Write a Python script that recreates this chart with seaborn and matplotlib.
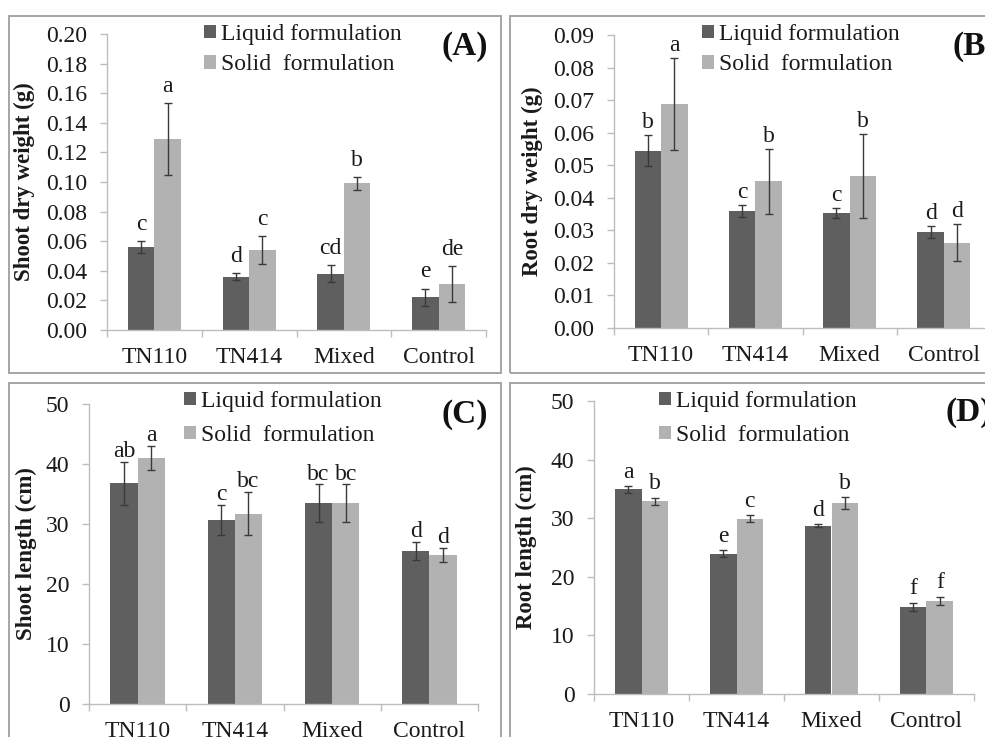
import matplotlib
matplotlib.use("Agg")
import matplotlib.pyplot as plt
from matplotlib.patches import Rectangle
import seaborn as sns
import pandas as pd
import numpy as np

# ---------------- data ----------------
treatments = ["TN110", "TN414", "Mixed", "Control"]
formulations = ["Liquid formulation", "Solid  formulation"]

shoot_dw_liquid = [0.056, 0.036, 0.038, 0.022]
shoot_dw_solid = [0.129, 0.054, 0.099, 0.031]
shoot_dw_liquid_err = [0.004, 0.0025, 0.0056, 0.006]
shoot_dw_solid_err = [0.0245, 0.0097, 0.0045, 0.012]
shoot_dw_liquid_lab = ["c", "d", "cd", "e"]
shoot_dw_solid_lab = ["a", "c", "b", "de"]

root_dw_liquid = [0.0545, 0.0359, 0.0354, 0.0295]
root_dw_solid = [0.0687, 0.0450, 0.0468, 0.0262]
root_dw_liquid_err = [0.0047, 0.0018, 0.0016, 0.0018]
root_dw_solid_err = [0.0141, 0.0101, 0.0129, 0.0057]
root_dw_liquid_lab = ["b", "c", "c", "d"]
root_dw_solid_lab = ["a", "b", "b", "d"]

shoot_len_liquid = [36.8, 30.7, 33.5, 25.5]
shoot_len_solid = [41.0, 31.7, 33.5, 24.8]
shoot_len_liquid_err = [3.6, 2.5, 3.1, 1.5]
shoot_len_solid_err = [2.0, 3.6, 3.1, 1.2]
shoot_len_liquid_lab = ["ab", "c", "bc", "d"]
shoot_len_solid_lab = ["a", "bc", "bc", "d"]

root_len_liquid = [34.9, 23.9, 28.7, 14.9]
root_len_solid = [32.9, 29.9, 32.6, 15.9]
root_len_liquid_err = [0.6, 0.6, 0.25, 0.7]
root_len_solid_err = [0.6, 0.6, 1.0, 0.7]
root_len_liquid_lab = ["a", "e", "d", "f"]
root_len_solid_lab = ["b", "c", "b", "f"]

ylabels = ["Shoot dry weight (g)", "Root dry weight (g)",
           "Shoot length (cm)", "Root length (cm)"]
panel_tags = ["(A)", "(B)", "(C)", "(D)"]

# ---------------- style ----------------
sns.set_theme(style="white")
plt.rcParams["font.family"] = ["Liberation Serif", "DejaVu Serif"]
plt.rcParams["text.color"] = "#1a1a1a"

W, H = 985, 737
fig = plt.figure(figsize=(W / 100, H / 100), dpi=100)

def fx(px):
    return px / W

def fy(py):
    return 1 - py / H

pal = {formulations[0]: "#5f5f5f", formulations[1]: "#b2b2b2"}
axis_col = "#bdbdbd"
err_col = "#3a3a3a"
FS = 17

panels = [
    dict(liq=shoot_dw_liquid, sol=shoot_dw_solid, le=shoot_dw_liquid_err, se=shoot_dw_solid_err,
         ll=shoot_dw_liquid_lab, sl=shoot_dw_solid_lab,
         ax=(107, 486, 34, 330), ymax=0.20, step=0.02, fmt="{:.2f}",
         ylab_x=35, leg=(204, 24), lsp=0.4, tag=(488, 47), off=8, frame=(9, 16, 501, 373)),
    dict(liq=root_dw_liquid, sol=root_dw_solid, le=root_dw_liquid_err, se=root_dw_solid_err,
         ll=root_dw_liquid_lab, sl=root_dw_solid_lab,
         ax=(614, 991, 35, 328), ymax=0.09, step=0.01, fmt="{:.2f}",
         ylab_x=543, leg=(702, 24), lsp=0.4, tag=(997, 47), off=5, frame=(510, 16, 1000, 373)),
    dict(liq=shoot_len_liquid, sol=shoot_len_solid, le=shoot_len_liquid_err, se=shoot_len_solid_err,
         ll=shoot_len_liquid_lab, sl=shoot_len_solid_lab,
         ax=(89, 478, 404, 704), ymax=50, step=10, fmt="{:.0f}",
         ylab_x=37, leg=(184, 391), lsp=0.55, tag=(488, 415), off=3.5, frame=(9, 383, 501, 760)),
    dict(liq=root_len_liquid, sol=root_len_solid, le=root_len_liquid_err, se=root_len_solid_err,
         ll=root_len_liquid_lab, sl=root_len_solid_lab,
         ax=(594, 974, 401, 694), ymax=50, step=10, fmt="{:.0f}",
         ylab_x=537, leg=(659, 391), lsp=0.55, tag=(992, 413), off=6, frame=(510, 383, 1000, 760)),
]

for i, p in enumerate(panels):
    # frame
    x0, y0, x1, y1 = p["frame"]
    fig.patches.append(Rectangle((fx(x0), fy(y1)), fx(x1 - x0), fy(y0) - fy(y1),
                                 transform=fig.transFigure, fill=False,
                                 edgecolor="#a5a5a5", linewidth=1.4, zorder=0))

    l, r, t, b = p["ax"]
    ax = fig.add_axes([fx(l), fy(b), fx(r - l), (b - t) / H])
    ax.patch.set_alpha(0)

    df = pd.DataFrame({
        "Treatment": treatments * 2,
        "Formulation": [formulations[0]] * 4 + [formulations[1]] * 4,
        "value": list(p["liq"]) + list(p["sol"]),
    })
    sns.barplot(data=df, x="Treatment", y="value", hue="Formulation",
                order=treatments, hue_order=formulations, palette=pal,
                width=0.56, errorbar=None, saturation=1, ax=ax,
                linewidth=0, legend=True)

    errs = [p["le"], p["se"]]
    labs = [p["ll"], p["sl"]]
    vals = [p["liq"], p["sol"]]
    bar_conts = list(ax.containers[:2])
    for k, cont in enumerate(bar_conts):
        for j, bar in enumerate(list(cont.patches)):
            cx = bar.get_x() + bar.get_width() / 2
            ax.errorbar(cx, vals[k][j], yerr=errs[k][j], fmt="none",
                        ecolor=err_col, elinewidth=1.0, capsize=3, capthick=1.0,
                        zorder=5)
            ax.annotate(labs[k][j], (cx, vals[k][j] + errs[k][j]),
                        xytext=(0, p["off"]), textcoords="offset points",
                        ha="center", va="baseline", fontsize=17, color="#1a1a1a")

    ax.set_ylim(0, p["ymax"])
    ax.set_xlim(-0.5, 3.5)
    yt = np.arange(0, p["ymax"] + p["step"] / 2, p["step"])
    ax.set_yticks(yt)
    ax.set_yticklabels([p["fmt"].format(v) for v in yt])
    ax.set_xticks([-0.5, 0.5, 1.5, 2.5, 3.5])
    ax.set_xticklabels([])
    ax.set_xticks(range(4), minor=True)
    ax.set_xticklabels(treatments, minor=True)
    ax.tick_params(axis="x", which="major", length=5, width=1, color=axis_col, direction="out")
    ax.tick_params(axis="x", which="minor", length=0, pad=12.5, labelsize=FS, labelcolor="#1a1a1a")
    ax.tick_params(axis="y", which="major", length=5, width=1, color=axis_col, direction="out",
                   pad=9, labelsize=FS, labelcolor="#1a1a1a")
    ax.xaxis.set_ticks_position("bottom")
    ax.yaxis.set_ticks_position("left")
    for s in ["top", "right"]:
        ax.spines[s].set_visible(False)
    for s in ["left", "bottom"]:
        ax.spines[s].set_color(axis_col)
        ax.spines[s].set_linewidth(1.0)
    ax.set_xlabel("")
    ax.set_ylabel(ylabels[i], fontsize=16.5, fontweight="bold", color="#1a1a1a")
    ax.yaxis.set_label_coords(fx(p["ylab_x"]), (fy((t + b) / 2)), transform=fig.transFigure)

    handles, labels = ax.get_legend_handles_labels()
    ax.legend(handles[:2], labels[:2], loc="upper left",
              bbox_to_anchor=(fx(p["leg"][0]), fy(p["leg"][1])),
              bbox_transform=fig.transFigure, frameon=False, fontsize=FS,
              handlelength=0.5, handleheight=0.5, handletextpad=0.2,
              labelspacing=p["lsp"], borderpad=0, borderaxespad=0)

    fig.text(fx(p["tag"][0]), fy(p["tag"][1]), panel_tags[i], ha="right", va="center",
             fontsize=24, fontweight="bold", color="#111111")

fig.savefig("out.png", dpi=100)
